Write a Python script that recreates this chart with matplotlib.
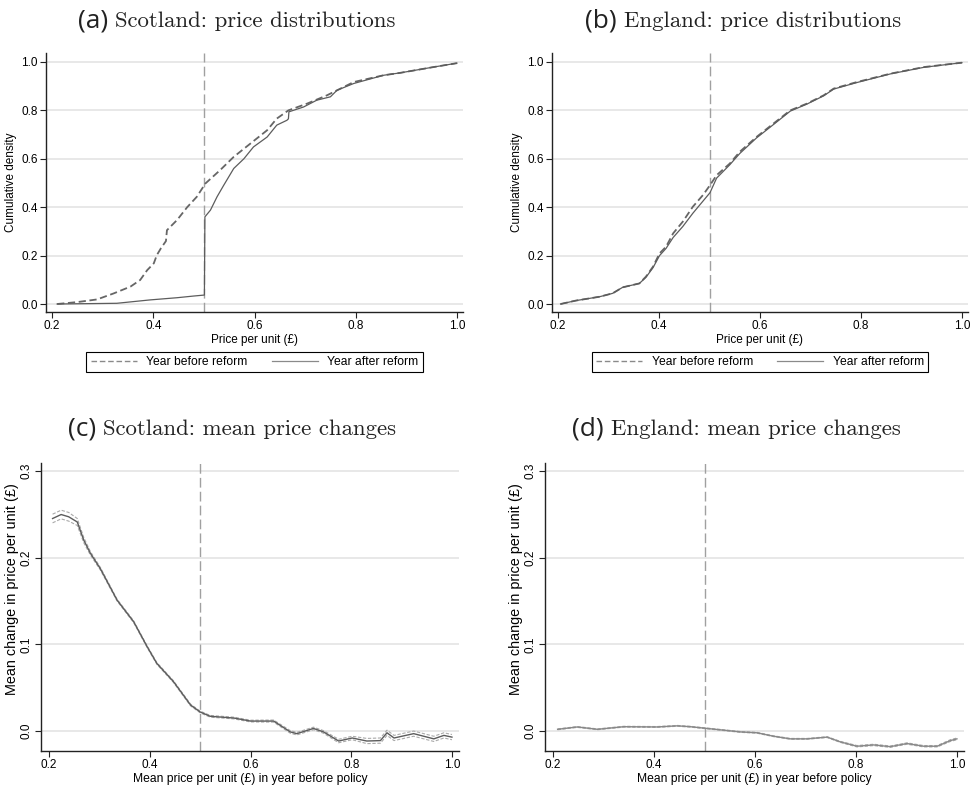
import matplotlib
matplotlib.use('Agg')
import matplotlib.pyplot as plt
import numpy as np

plt.rcParams['font.family'] = ['Liberation Sans', 'DejaVu Sans']

# (a) Scotland CDFs
sc_before_x = [0.21, 0.25, 0.289, 0.322, 0.355, 0.374, 0.388, 0.401, 0.407, 0.415, 0.425, 0.427, 0.447,
               0.467, 0.486, 0.503, 0.532, 0.559, 0.592, 0.625, 0.644, 0.667, 0.704, 0.743, 0.796,
               0.855, 0.888, 0.954, 1.0]
sc_before_y = [0.0, 0.008, 0.019, 0.044, 0.072, 0.099, 0.14, 0.168, 0.202, 0.23, 0.26, 0.305, 0.347,
               0.40, 0.443, 0.498, 0.553, 0.608, 0.663, 0.718, 0.766, 0.80, 0.828, 0.862, 0.917,
               0.945, 0.955, 0.979, 0.995]
sc_after_x = [0.21, 0.328, 0.394, 0.447, 0.48, 0.501, 0.502, 0.513, 0.526, 0.539, 0.559, 0.579, 0.598,
              0.625, 0.644, 0.664, 0.667, 0.668, 0.697, 0.723, 0.75, 0.763, 0.796, 0.855, 0.888,
              0.954, 1.0]
sc_after_y = [0.0, 0.003, 0.017, 0.026, 0.033, 0.037, 0.36, 0.388, 0.443, 0.49, 0.56, 0.60, 0.649,
              0.69, 0.739, 0.759, 0.765, 0.794, 0.814, 0.842, 0.856, 0.883, 0.911, 0.945, 0.955,
              0.979, 0.995]

# (b) England CDFs
en_before_x = [0.205, 0.235, 0.282, 0.308, 0.328, 0.361, 0.374, 0.388, 0.401, 0.414, 0.428, 0.447,
               0.467, 0.487, 0.501, 0.514, 0.540, 0.560, 0.593, 0.627, 0.660, 0.693, 0.726, 0.746,
               0.792, 0.859, 0.925, 1.0]
en_before_y = [0.0, 0.014, 0.03, 0.044, 0.069, 0.085, 0.113, 0.154, 0.209, 0.237, 0.292, 0.34,
               0.402, 0.45, 0.491, 0.532, 0.58, 0.629, 0.69, 0.746, 0.80, 0.828, 0.862, 0.89,
               0.917, 0.952, 0.979, 0.997]
en_after_x = [0.205, 0.235, 0.282, 0.308, 0.328, 0.361, 0.374, 0.388, 0.401, 0.414, 0.428, 0.447,
              0.467, 0.487, 0.501, 0.514, 0.540, 0.560, 0.593, 0.627, 0.660, 0.693, 0.726, 0.746,
              0.792, 0.859, 0.925, 1.0]
en_after_y = [0.0, 0.014, 0.03, 0.044, 0.069, 0.085, 0.11, 0.15, 0.2, 0.23, 0.275, 0.32,
              0.375, 0.425, 0.46, 0.52, 0.575, 0.622, 0.686, 0.742, 0.797, 0.826, 0.86, 0.888,
              0.915, 0.951, 0.978, 0.997]

# (c) Scotland mean price change
sc_chg_x = [0.207, 0.224, 0.239, 0.256, 0.269, 0.282, 0.302, 0.335, 0.368, 0.395, 0.414, 0.447, 0.481,
            0.500, 0.520, 0.567, 0.600, 0.646, 0.679, 0.692, 0.725, 0.745, 0.775, 0.802, 0.831,
            0.858, 0.871, 0.885, 0.924, 0.964, 0.984, 1.0]
sc_chg_y = [0.245, 0.2496, 0.247, 0.241, 0.22, 0.205, 0.187, 0.151, 0.126, 0.097, 0.078, 0.057, 0.030,
            0.022, 0.017, 0.015, 0.0115, 0.0115, -0.001, -0.003, 0.003, -0.001, -0.0115, -0.008,
            -0.0115, -0.011, -0.002, -0.008, -0.003, -0.009, -0.005, -0.007]
sc_chg_ci = [0.005, 0.005, 0.005, 0.004, 0.003, 0.002, 0.0015, 0.001, 0.001, 0.001, 0.001, 0.001, 0.001,
             0.001, 0.001, 0.001, 0.001, 0.0012, 0.0015, 0.0015, 0.0015, 0.0015, 0.002, 0.002, 0.003,
             0.003, 0.003, 0.003, 0.003, 0.003, 0.003, 0.003]

# (d) England mean price change
en_chg_x = [0.209, 0.248, 0.288, 0.340, 0.406, 0.446, 0.472, 0.505, 0.571, 0.604, 0.637, 0.670, 0.703,
            0.743, 0.769, 0.802, 0.835, 0.868, 0.901, 0.934, 0.961, 0.987, 1.0]
en_chg_y = [0.002, 0.0047, 0.002, 0.005, 0.0047, 0.006, 0.005, 0.003, -0.001, -0.002, -0.006, -0.009,
            -0.009, -0.007, -0.0125, -0.0175, -0.016, -0.018, -0.0144, -0.0175, -0.0175, -0.011, -0.009]
en_chg_ci = [0.0005, 0.0005, 0.0005, 0.0005, 0.0005, 0.0005, 0.0005, 0.0005, 0.0005, 0.0005, 0.0005,
             0.0005, 0.0005, 0.0005, 0.0006, 0.0008, 0.0008, 0.0008, 0.0008, 0.0008, 0.0008, 0.001, 0.001]

W, H = 971, 785
fig = plt.figure(figsize=(W / 100, H / 100), dpi=100)


def make_ax(l, r, t, b):
    return fig.add_axes([l / W, 1 - b / H, (r - l) / W, (b - t) / H])


ax_a = make_ax(46, 463, 53, 312)
ax_b = make_ax(552, 968, 53, 312)
ax_c = make_ax(41, 459, 463, 751)
ax_d = make_ax(545, 964, 463, 751)

line_col = '#5c5c5c'
ref_col = '#a0a0a0'


def style(ax, yticks, rot=False):
    for s in ['top', 'right']:
        ax.spines[s].set_visible(False)
    for s in ['left', 'bottom']:
        ax.spines[s].set_color('#222222')
        ax.spines[s].set_linewidth(1.0)
    ax.set_xticks([0.2, 0.4, 0.6, 0.8, 1.0])
    ax.set_xticklabels(['0.2', '0.4', '0.6', '0.8', '1.0'])
    ax.set_yticks(yticks)
    ax.set_yticklabels(['%.1f' % v for v in yticks])
    for v in yticks:
        ax.axhline(v, color='#e6e6e6', lw=1.3, zorder=0)
    ax.tick_params(labelsize=8.5, length=4, width=0.8, color='#222222', pad=2)
    if rot:
        for lab in ax.get_yticklabels():
            lab.set_rotation(90)
            lab.set_va('center')
    ax.axvline(0.5, color=ref_col, lw=1.0, ls=(0, (7, 3)), zorder=1)


for ax, bx, by, axx, ay in [(ax_a, sc_before_x, sc_before_y, sc_after_x, sc_after_y),
                            (ax_b, en_before_x, en_before_y, en_after_x, en_after_y)]:
    ax.plot(bx, by, color='#666666', lw=1.3, ls=(0, (4, 2)), label='Year before reform')
    ax.plot(axx, ay, color=line_col, lw=0.9, label='Year after reform')
    ax.set_xlim(0.188, 1.012)
    ax.set_ylim(-0.033, 1.037)
    style(ax, [0.0, 0.2, 0.4, 0.6, 0.8, 1.0])
    ax.set_xlabel('Price per unit (£)', fontsize=8.5, labelpad=1)
    ax.set_ylabel('Cumulative density', fontsize=8.5, labelpad=3)
    leg = ax.legend(loc='upper center', bbox_to_anchor=(0.5, -0.13), ncol=2, fancybox=False,
                    edgecolor='black', fontsize=8.7, handlelength=3.8, handletextpad=0.8,
                    columnspacing=2.0, borderpad=0.35, framealpha=1)
    leg.get_frame().set_linewidth(0.8)
    leg.get_lines()[0].set_color('#8a8a8a')
    leg.get_lines()[0].set_linewidth(1.0)
    leg.get_lines()[1].set_color('#8a8a8a')

for ax, x, y, ci, col in [(ax_c, sc_chg_x, sc_chg_y, sc_chg_ci, '#5c5c5c'),
                          (ax_d, en_chg_x, en_chg_y, en_chg_ci, '#888888')]:
    y = np.array(y)
    ci = np.array(ci)
    ax.plot(x, y + ci, color='#aaaaaa', lw=0.8, ls=(0, (3, 1.5)))
    ax.plot(x, y - ci, color='#aaaaaa', lw=0.8, ls=(0, (3, 1.5)))
    ax.plot(x, y, color=col, lw=1.0)
    ax.set_xlim(0.184, 1.014)
    ax.set_ylim(-0.023, 0.309)
    style(ax, [0.0, 0.1, 0.2, 0.3], rot=True)
    ax.set_xlabel('Mean price per unit (£) in year before policy', fontsize=8.7, labelpad=1)
    ax.set_ylabel('Mean change in price per unit (£)', fontsize=10.4, labelpad=2)
    ax.yaxis.set_label_coords(-0.052, 0.5625)

titles = [('(a)', 'Scotland: price distributions', 108, 27),
          ('(b)', 'England: price distributions', 617, 27),
          ('(c)', 'Scotland: mean price changes', 96, 435),
          ('(d)', 'England: mean price changes', 604, 435)]
for lab, txt, xr, yb in titles:
    fig.text(xr / W, 1 - yb / H, lab, ha='right', va='baseline', fontsize=19,
             family=['Open Sans', 'DejaVu Sans'], color='#222222')
    fig.text((xr + 7) / W, 1 - yb / H, txt, ha='left', va='baseline', fontsize=16.4,
             family=['cmr10', 'DejaVu Serif'], color='#222222')

fig.savefig('out.png', dpi=100)
